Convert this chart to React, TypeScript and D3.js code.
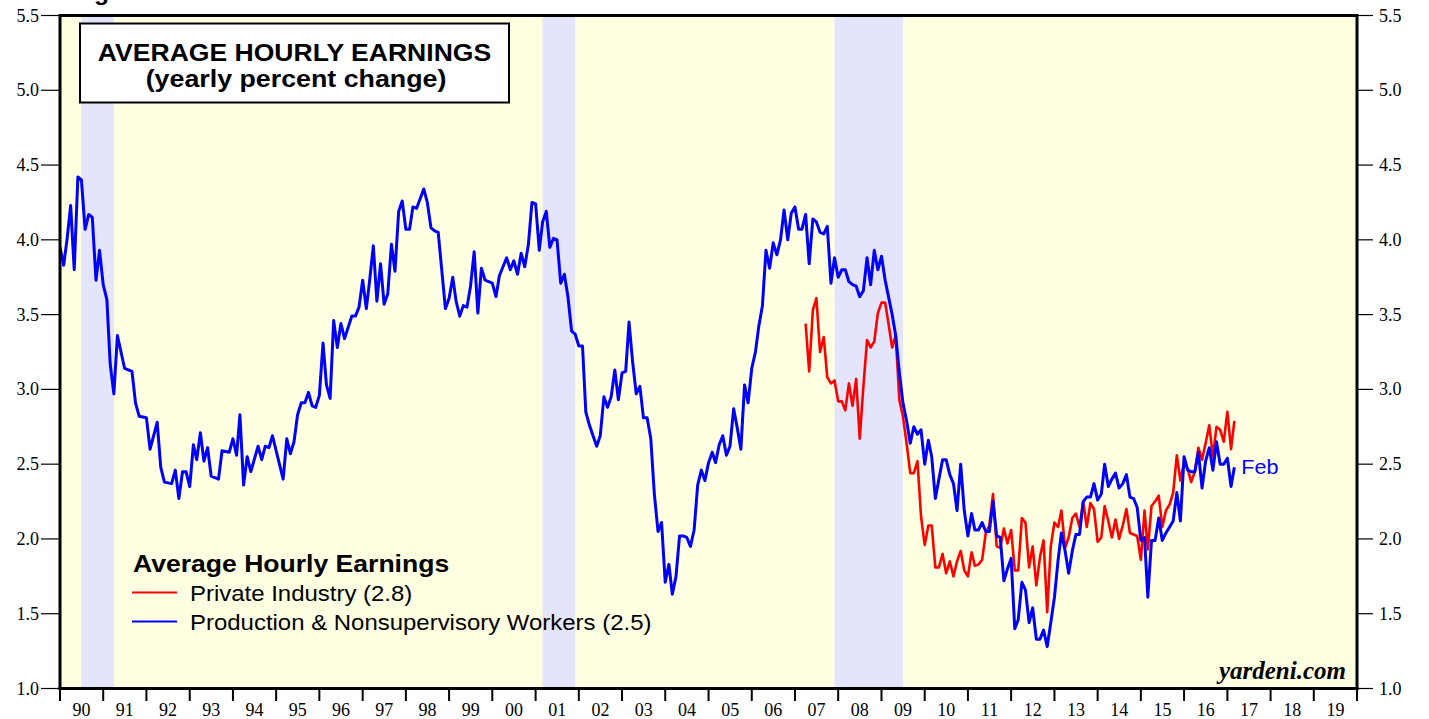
import React from 'react';
import * as d3 from 'd3';

const yearLabels = ['90','91','92','93','94','95','96','97','98','99','00','01','02','03','04','05','06','07','08','09','10','11','12','13','14','15','16','17','18','19'];
const yTickValues = [1.0, 1.5, 2.0, 2.5, 3.0, 3.5, 4.0, 4.5, 5.0, 5.5];
const recessions: [string, string][] = [['1990-07', '1991-03'], ['2001-03', '2001-11'], ['2007-12', '2009-06']];

// Production & Nonsupervisory Workers, yearly % change (month, value)
const workers: [string, number][] = [
  ['1989-12',3.95],['1990-01',3.83],['1990-02',4.00],['1990-03',4.23],['1990-04',3.80],['1990-05',4.42],['1990-06',4.40],
  ['1990-07',4.07],['1990-08',4.17],['1990-09',4.15],['1990-10',3.73],['1990-11',3.93],['1990-12',3.70],
  ['1991-01',3.60],['1991-02',3.17],['1991-03',2.97],['1991-04',3.36],['1991-06',3.14],['1991-08',3.12],['1991-09',2.91],
  ['1991-10',2.82],['1991-12',2.81],['1992-01',2.60],['1992-03',2.78],['1992-04',2.48],['1992-05',2.38],['1992-07',2.37],
  ['1992-08',2.46],['1992-09',2.27],['1992-10',2.45],['1992-11',2.45],['1992-12',2.35],['1993-01',2.63],['1993-02',2.53],
  ['1993-03',2.71],['1993-04',2.52],['1993-05',2.61],['1993-06',2.42],['1993-08',2.40],['1993-09',2.59],['1993-11',2.58],
  ['1993-12',2.67],['1994-01',2.56],['1994-02',2.83],['1994-03',2.36],['1994-04',2.55],['1994-05',2.45],['1994-07',2.62],
  ['1994-08',2.53],['1994-09',2.62],['1994-10',2.61],['1994-11',2.69],['1995-02',2.40],['1995-03',2.67],['1995-04',2.57],
  ['1995-05',2.65],['1995-06',2.83],['1995-07',2.91],['1995-08',2.91],['1995-09',2.98],['1995-10',2.89],['1995-11',2.88],
  ['1995-12',2.96],['1996-01',3.31],['1996-02',3.03],['1996-03',2.94],['1996-04',3.46],['1996-05',3.28],['1996-06',3.44],
  ['1996-07',3.34],['1996-09',3.49],['1996-10',3.49],['1996-11',3.55],['1996-12',3.73],['1997-01',3.54],['1997-02',3.73],
  ['1997-03',3.96],['1997-04',3.59],['1997-05',3.84],['1997-06',3.57],['1997-07',3.64],['1997-08',3.97],['1997-09',3.79],
  ['1997-10',4.19],['1997-11',4.26],['1997-12',4.07],['1998-01',4.07],['1998-02',4.22],['1998-03',4.21],['1998-05',4.34],
  ['1998-06',4.25],['1998-07',4.08],['1998-08',4.06],['1998-09',4.05],['1998-11',3.54],['1998-12',3.61],['1999-01',3.75],
  ['1999-02',3.59],['1999-03',3.49],['1999-04',3.56],['1999-05',3.55],['1999-06',3.69],['1999-07',3.92],['1999-08',3.51],
  ['1999-09',3.81],['1999-10',3.73],['1999-12',3.71],['2000-01',3.62],['2000-02',3.76],['2000-04',3.88],['2000-05',3.80],
  ['2000-06',3.86],['2000-07',3.77],['2000-08',3.91],['2000-09',3.82],['2000-10',3.97],['2000-11',4.25],['2000-12',4.24],
  ['2001-01',3.93],['2001-02',4.12],['2001-03',4.19],['2001-04',3.95],['2001-05',4.01],['2001-06',4.00],['2001-07',3.71],
  ['2001-08',3.77],['2001-09',3.62],['2001-10',3.39],['2001-11',3.37],['2001-12',3.29],['2002-01',3.29],['2002-02',2.85],
  ['2002-03',2.76],['2002-04',2.69],['2002-05',2.62],['2002-06',2.69],['2002-07',2.95],['2002-08',2.88],['2002-09',2.95],
  ['2002-10',3.13],['2002-11',2.93],['2002-12',3.11],['2003-01',3.12],['2003-02',3.45],['2003-03',3.18],['2003-04',2.97],
  ['2003-05',3.02],['2003-06',2.81],['2003-07',2.81],['2003-08',2.67],['2003-09',2.30],['2003-10',2.05],['2003-11',2.11],
  ['2003-12',1.71],['2004-01',1.83],['2004-02',1.63],['2004-03',1.75],['2004-04',2.02],['2004-05',2.02],['2004-06',2.01],
  ['2004-07',1.95],['2004-08',2.06],['2004-09',2.36],['2004-10',2.46],['2004-11',2.39],['2004-12',2.51],['2005-01',2.58],
  ['2005-02',2.51],['2005-03',2.63],['2005-04',2.69],['2005-05',2.56],['2005-06',2.62],['2005-07',2.87],['2005-08',2.74],
  ['2005-09',2.60],['2005-10',3.03],['2005-11',2.91],['2005-12',3.14],['2006-01',3.25],['2006-02',3.42],['2006-03',3.56],
  ['2006-04',3.93],['2006-05',3.81],['2006-06',3.98],['2006-07',3.90],['2006-08',4.00],['2006-09',4.20],['2006-10',4.00],
  ['2006-11',4.18],['2006-12',4.22],['2007-01',4.07],['2007-02',4.07],['2007-03',4.17],['2007-04',3.84],['2007-05',4.14],
  ['2007-06',4.12],['2007-07',4.05],['2007-08',4.04],['2007-09',4.09],['2007-10',3.71],['2007-11',3.88],['2007-12',3.75],
  ['2008-01',3.80],['2008-02',3.80],['2008-03',3.72],['2008-04',3.70],['2008-05',3.69],['2008-06',3.62],['2008-07',3.66],
  ['2008-08',3.88],['2008-09',3.70],['2008-10',3.93],['2008-11',3.80],['2008-12',3.89],['2009-01',3.73],['2009-02',3.62],
  ['2009-03',3.50],['2009-04',3.36],['2009-05',3.11],['2009-06',2.91],['2009-07',2.79],['2009-08',2.64],['2009-09',2.75],
  ['2009-10',2.70],['2009-11',2.73],['2009-12',2.50],['2010-01',2.66],['2010-02',2.55],['2010-03',2.27],['2010-04',2.40],
  ['2010-05',2.53],['2010-06',2.53],['2010-07',2.43],['2010-08',2.37],['2010-09',2.19],['2010-10',2.50],['2010-11',2.19],
  ['2010-12',2.02],['2011-01',2.17],['2011-02',2.06],['2011-03',2.06],['2011-04',2.11],['2011-05',2.05],['2011-06',2.05],
  ['2011-07',2.25],['2011-08',2.02],['2011-09',2.01],['2011-10',1.72],['2011-11',1.80],['2011-12',1.87],['2012-01',1.40],
  ['2012-02',1.46],['2012-03',1.71],['2012-04',1.66],['2012-05',1.44],['2012-06',1.54],['2012-07',1.33],['2012-08',1.33],
  ['2012-09',1.39],['2012-10',1.28],['2012-11',1.44],['2012-12',1.61],['2013-01',1.86],['2013-02',2.04],['2013-03',1.92],
  ['2013-04',1.77],['2013-05',1.92],['2013-06',2.03],['2013-07',2.03],['2013-08',2.25],['2013-09',2.28],['2013-10',2.28],
  ['2013-11',2.37],['2013-12',2.26],['2014-01',2.30],['2014-02',2.50],['2014-03',2.35],['2014-04',2.40],['2014-05',2.44],
  ['2014-06',2.34],['2014-07',2.37],['2014-08',2.43],['2014-09',2.28],['2014-10',2.27],['2014-11',2.21],['2014-12',1.99],
  ['2015-01',2.01],['2015-02',1.61],['2015-03',1.99],['2015-04',1.99],['2015-05',2.14],['2015-06',1.99],['2015-07',2.04],
  ['2015-08',2.08],['2015-09',2.12],['2015-10',2.31],['2015-11',2.12],['2015-12',2.55],['2016-01',2.46],['2016-02',2.45],
  ['2016-03',2.45],['2016-04',2.58],['2016-05',2.34],['2016-06',2.52],['2016-07',2.61],['2016-08',2.46],['2016-09',2.65],
  ['2016-10',2.50],['2016-11',2.50],['2016-12',2.54],['2017-01',2.35],['2017-02',2.48],
];

// Private Industry, yearly % change (month, value)
const privateIndustry: [string, number][] = [
  ['2007-03',3.44],['2007-04',3.12],['2007-05',3.53],['2007-06',3.61],['2007-07',3.25],['2007-08',3.35],['2007-09',3.08],
  ['2007-10',3.04],['2007-11',3.06],['2007-12',2.92],['2008-01',2.92],['2008-02',2.86],['2008-03',3.04],['2008-04',2.89],
  ['2008-05',3.07],['2008-06',2.67],['2008-07',3.02],['2008-08',3.33],['2008-09',3.28],['2008-10',3.32],['2008-11',3.51],
  ['2008-12',3.58],['2009-01',3.58],['2009-02',3.44],['2009-03',3.28],['2009-04',3.36],['2009-05',2.93],['2009-06',2.82],
  ['2009-07',2.64],['2009-08',2.44],['2009-09',2.44],['2009-10',2.52],['2009-11',2.15],['2009-12',1.96],['2010-01',2.09],
  ['2010-02',2.09],['2010-03',1.81],['2010-04',1.81],['2010-05',1.90],['2010-06',1.77],['2010-07',1.85],['2010-08',1.75],
  ['2010-09',1.85],['2010-10',1.92],['2010-11',1.79],['2010-12',1.75],['2011-01',1.91],['2011-02',1.82],['2011-03',1.83],
  ['2011-04',1.86],['2011-05',2.04],['2011-06',2.09],['2011-07',2.30],['2011-08',1.95],['2011-09',1.94],['2011-10',2.07],
  ['2011-11',1.97],['2011-12',2.06],['2012-01',1.79],['2012-02',1.79],['2012-03',2.14],['2012-04',2.11],['2012-05',1.81],
  ['2012-06',1.95],['2012-07',1.69],['2012-08',1.88],['2012-09',1.99],['2012-10',1.51],['2012-11',1.95],['2012-12',2.11],
  ['2013-01',2.08],['2013-02',2.19],['2013-03',1.94],['2013-04',2.01],['2013-05',2.14],['2013-06',2.17],['2013-07',2.08],
  ['2013-08',2.25],['2013-09',2.08],['2013-10',2.24],['2013-11',2.20],['2013-12',1.98],['2014-01',2.01],['2014-02',2.22],
  ['2014-03',2.12],['2014-04',2.01],['2014-05',2.13],['2014-06',2.00],['2014-07',2.09],['2014-08',2.20],['2014-09',2.04],
  ['2014-10',2.03],['2014-11',2.02],['2014-12',1.86],['2015-01',2.19],['2015-02',1.93],['2015-03',2.22],['2015-04',2.25],
  ['2015-05',2.29],['2015-06',2.08],['2015-07',2.19],['2015-08',2.23],['2015-09',2.31],['2015-10',2.56],['2015-11',2.39],
  ['2015-12',2.51],['2016-01',2.47],['2016-02',2.38],['2016-03',2.45],['2016-04',2.61],['2016-05',2.53],['2016-06',2.64],
  ['2016-07',2.76],['2016-08',2.55],['2016-09',2.75],['2016-10',2.73],['2016-11',2.65],['2016-12',2.85],['2017-01',2.60],
  ['2017-02',2.79],
];

const legendTitle = 'Average Hourly Earnings';
const legendItems = [
  { label: 'Private Industry (2.8)', color: '#ff0000' },
  { label: 'Production & Nonsupervisory Workers (2.5)', color: '#0000ff' },
];

const W = 1429;
const H = 719;
const M = { left: 60, right: 1357, top: 15.5, bottom: 688.5 };
const SANS = '"Liberation Sans", Arial, Helvetica, sans-serif';
const SERIF = '"Liberation Serif", "Times New Roman", Times, serif';

const monthStart = (s: string) => { const [y, m] = s.split('-').map(Number); return new Date(y, m - 1, 1); };
const monthEnd = (s: string) => { const [y, m] = s.split('-').map(Number); return new Date(y, m, 1); };

export default function App() {
  const x = d3.scaleTime().domain([new Date(1990, 0, 1), new Date(2020, 0, 1)]).range([M.left, M.right]);
  const y = d3.scaleLinear().domain([1, 5.5]).range([M.bottom, M.top]);
  const line = d3.line<[string, number]>().x(d => x(monthEnd(d[0]))).y(d => y(d[1]));
  const years = d3.timeYear.range(new Date(1990, 0, 1), new Date(2021, 0, 1));
  const lastW = workers[workers.length - 1];

  return (
    <svg width={W} height={H} style={{ position: 'absolute', left: 0, top: 0, background: '#fff' }}>
      <defs>
        <clipPath id="plotclip">
          <rect x={M.left} y={M.top} width={M.right - M.left} height={M.bottom - M.top} />
        </clipPath>
      </defs>
      <text transform="translate(72,0) scale(1.12,1)" fontFamily={SANS} fontWeight="bold" fontSize={22}>Figure 1.</text>
      <rect x={M.left} y={M.top} width={M.right - M.left} height={M.bottom - M.top} fill="#ffffe2" />
      {recessions.map(([a, b], i) => (
        <rect key={i} x={x(monthStart(a))} y={M.top} width={x(monthEnd(b)) - x(monthStart(a))} height={M.bottom - M.top} fill="#e4e4fa" />
      ))}
      <g clipPath="url(#plotclip)">
        <path d={line(privateIndustry) || ''} fill="none" stroke="#ff0000" strokeWidth={2.6} strokeLinejoin="round" />
        <path d={line(workers) || ''} fill="none" stroke="#0000ff" strokeWidth={3} strokeLinejoin="round" />
      </g>
      {/* title box */}
      <rect x={80} y={23.5} width={429} height={79} fill="#fff" stroke="#000" strokeWidth={2} />
      <text transform="translate(294.5,60.5) scale(1.13,1)" textAnchor="middle" fontFamily={SANS} fontWeight="bold" fontSize={23.5}>AVERAGE HOURLY EARNINGS</text>
      <text transform="translate(296,86.5) scale(1.14,1)" textAnchor="middle" fontFamily={SANS} fontWeight="bold" fontSize={23.5}>(yearly percent change)</text>
      {/* legend */}
      <text transform="translate(133,572) scale(1.155,1)" fontFamily={SANS} fontWeight="bold" fontSize={23}>{legendTitle}</text>
      {legendItems.map((it, i) => (
        <g key={i}>
          <line x1={132} x2={177} y1={592.5 + i * 29} y2={592.5 + i * 29} stroke={it.color} strokeWidth={2} />
          <text transform={`translate(190,${600.5 + i * 29}) scale(1.115,1)`} fontFamily={SANS} fontSize={21.5}>{it.label}</text>
        </g>
      ))}
      <text transform={`translate(${x(monthEnd(lastW[0])) + 7},473.5) scale(1.05,1)`} fill="#0000ff" fontFamily={SANS} fontSize={20.5}>Feb</text>
      <text x={1346} y={679} textAnchor="end" fontFamily={SERIF} fontStyle="italic" fontWeight="bold" fontSize={25}>yardeni.com</text>
      {/* frame */}
      <line x1={M.left} x2={M.right} y1={M.top} y2={M.top} stroke="#000" strokeWidth={3} />
      <line x1={M.left} x2={M.left} y1={M.top - 1.5} y2={M.bottom + 1.5} stroke="#000" strokeWidth={3} />
      <line x1={M.right} x2={M.right} y1={M.top - 1.5} y2={M.bottom + 1.5} stroke="#000" strokeWidth={3} />
      <line x1={M.left - 1.5} x2={M.right + 1.5} y1={M.bottom} y2={M.bottom} stroke="#000" strokeWidth={3} />
      {/* y axes */}
      {yTickValues.map(v => (
        <g key={v}>
          <line x1={41} x2={M.left} y1={y(v)} y2={y(v)} stroke="#000" strokeWidth={1.2} />
          <text x={39} y={y(v) + 6} textAnchor="end" fontFamily={SERIF} fontSize={18}>{v.toFixed(1)}</text>
          <line x1={M.right} x2={1373} y1={y(v)} y2={y(v)} stroke="#000" strokeWidth={1.2} />
          <text x={1379} y={y(v) + 6} fontFamily={SERIF} fontSize={18}>{v.toFixed(1)}</text>
        </g>
      ))}
      {/* x axis */}
      {years.map((d, i) => (
        <line key={i} x1={x(d)} x2={x(d)} y1={M.bottom} y2={701} stroke="#000" strokeWidth={2} />
      ))}
      {yearLabels.map((lab, i) => {
        const a = new Date(1990 + i, 0, 1);
        const b = new Date(1991 + i, 0, 1);
        return (
          <text key={lab + i} x={(x(a) + x(b)) / 2} y={716} textAnchor="middle" fontFamily={SERIF} fontSize={18}>{lab}</text>
        );
      })}
    </svg>
  );
}
